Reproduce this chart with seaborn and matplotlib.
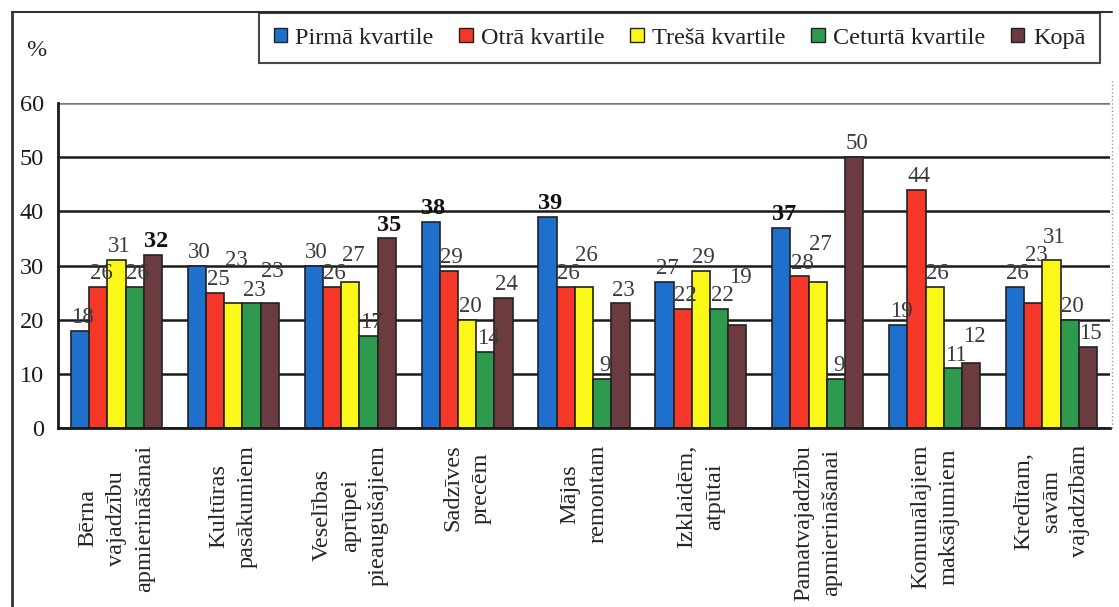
import numpy as np
import pandas as pd
import seaborn as sns
import matplotlib.pyplot as plt
from matplotlib.lines import Line2D
from matplotlib.patches import Patch

# data
categories = [
    "Bērna\nvajadzību\napmierināšanai",
    "Kultūras\npasākumiem",
    "Veselības\naprūpei\npieaugušajiem",
    "Sadzīves\nprecēm",
    "Mājas\nremontam",
    "Izklaidēm,\natpūtai",
    "Pamatvajadzību\napmierināšanai",
    "Komunālajiem\nmaksājumiem",
    "Kredītam,\nsavām\nvajadzībām",
]
series = ["Pirmā kvartile", "Otrā kvartile", "Trešā kvartile", "Ceturtā kvartile", "Kopā"]
q1 = [18, 30, 30, 38, 39, 27, 37, 19, 26]
q2 = [26, 25, 26, 29, 26, 22, 28, 44, 23]
q3 = [31, 23, 27, 20, 26, 29, 27, 26, 31]
q4 = [26, 23, 17, 14, 9, 22, 9, 11, 20]
total = [32, 23, 35, 24, 23, 19, 50, 12, 15]
bold_labels = {("Kopā", 0), ("Pirmā kvartile", 3), ("Pirmā kvartile", 4),
               ("Pirmā kvartile", 6), ("Kopā", 2)}

palette = {
    "Pirmā kvartile": "#1f6fcc",
    "Otrā kvartile": "#f5372a",
    "Trešā kvartile": "#fbf718",
    "Ceturtā kvartile": "#2e9a4e",
    "Kopā": "#6b3b40",
}

rows = []
for name, vals in zip(series, [q1, q2, q3, q4, total]):
    for cat, v in zip(categories, vals):
        rows.append({"Kategorija": cat, "Grupa": name, "Vērtība": v})
df = pd.DataFrame(rows)

sns.set_style("white")
plt.rcParams["font.family"] = ["Liberation Serif", "DejaVu Serif"]
font_size = 17.5

fig = plt.figure(figsize=(11.19, 6.07), dpi=100)
ax = fig.add_axes([58 / 1119, 1 - 428 / 607, 1052 / 1119, 325 / 607])

sns.barplot(
    data=df, x="Kategorija", y="Vērtība", hue="Grupa",
    hue_order=series, order=categories, palette=palette,
    width=0.78, saturation=1, edgecolor="#222222", linewidth=1.2,
    legend=False, ax=ax,
)

ax.set_ylim(0, 60)
ax.set_yticks(range(0, 61, 10))
ax.set_xlim(-0.5, len(categories) - 0.5)
ax.grid(axis="y", color="#1a1a1a", linewidth=1.8)
ax.get_ygridlines()[-1].set_color("#777777")
ax.set_axisbelow(True)
for side in ["top", "right"]:
    ax.spines[side].set_visible(False)
ax.spines["left"].set_color("#1a1a1a")
ax.spines["left"].set_linewidth(2)
ax.spines["bottom"].set_color("#1a1a1a")
ax.spines["bottom"].set_linewidth(2)
ax.set_xlabel("")
ax.set_ylabel("")

ax.tick_params(axis="y", direction="inout", length=16, width=1.5,
               labelsize=font_size, pad=2, colors="#1a1a1a")
ax.set_xticks(range(len(categories)))
ax.set_xticklabels(categories, rotation=90, ha="center", va="top",
                   multialignment="center", fontsize=font_size)
for lab in ax.get_xticklabels():
    lab.set_linespacing(1.45)
ax.tick_params(axis="x", which="major", length=0, pad=12)
ax.set_xticks(np.arange(0.5, len(categories) - 0.5, 1), minor=True)
ax.tick_params(axis="x", which="minor", direction="out", length=7, width=1.5)

# value labels; a label is lifted when it would sit on top of its left neighbour
label_h = 3.4  # label height in data units
for i in range(len(categories)):
    prev_y = None
    for name, cont in zip(series, ax.containers):
        bar = cont[i]
        v = bar.get_height()
        y = v
        if prev_y is not None and abs(y - prev_y) < label_h:
            y = max(y, prev_y + label_h)
        bold = (name, i) in bold_labels
        ax.annotate(
            f"{v:.0f}", (bar.get_x() + bar.get_width() / 2, y),
            xytext=(2, 2), textcoords="offset points",
            ha="center", va="bottom", fontsize=font_size - 1 + (1 if bold else 0),
            fontweight="bold" if bold else "normal",
            color="#111111" if bold else "#3a3a3a",
        )
        prev_y = y

# legend
handles = [Patch(facecolor=palette[s], edgecolor="#222222", label=s) for s in series]
leg = fig.legend(
    handles=handles, ncol=5, loc="upper left",
    bbox_to_anchor=(259 / 1119, 1 - 13 / 607), fontsize=font_size,
    frameon=True, fancybox=False, edgecolor="#1a1a1a",
    handlelength=0.55, handleheight=0.55, handletextpad=0.35,
    columnspacing=1.05, borderpad=0.6, borderaxespad=0,
)
leg.get_frame().set_linewidth(1.5)
for t in leg.get_texts():
    t.set_color("#222222")

# outer frame and unit
fig.add_artist(Line2D([12 / 1119, 12 / 1119], [0, 1 - 12 / 607],
                      color="#333333", linewidth=2))
fig.add_artist(Line2D([12 / 1119, 1112 / 1119], [1 - 12 / 607, 1 - 12 / 607],
                      color="#333333", linewidth=1.5))
fig.add_artist(Line2D([1112 / 1119, 1112 / 1119], [1 - 428 / 607, 1 - 80 / 607],
                      color="#999999", linewidth=1, linestyle=":"))
fig.text(26 / 1119, 1 - 50 / 607, "%", fontsize=font_size, va="center", ha="left")

fig.savefig("out.png", dpi=100)
